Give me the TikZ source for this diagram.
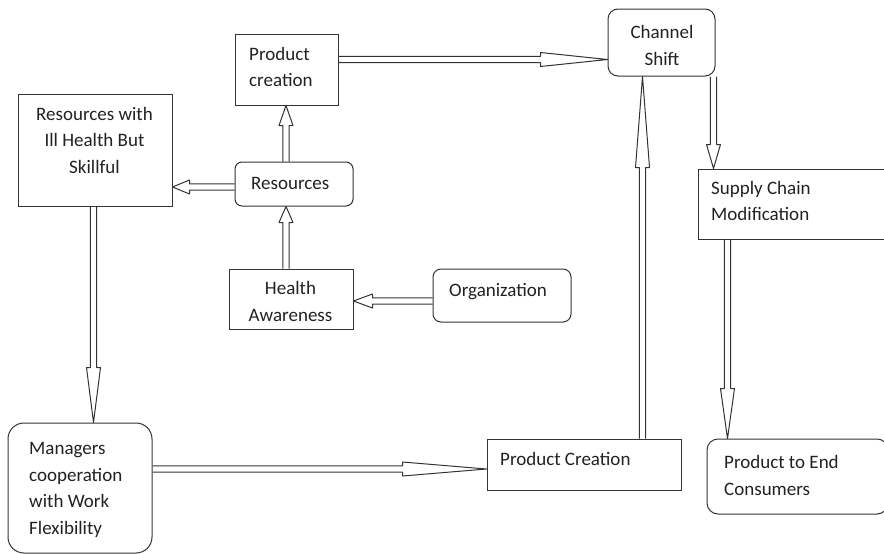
\documentclass[tikz,border=0pt]{standalone}
\usepackage{fontspec}
\setmainfont{Carlito}
\usetikzlibrary{calc}
\definecolor{ln}{HTML}{333333}
\definecolor{tx}{HTML}{222222}
\newcommand\blockarrow[3]{%
  \coordinate (ba-s) at #1;
  \coordinate (ba-e) at #2;
  \coordinate (ba-h) at ($(ba-e)!#3pt!(ba-s)$);
  \draw[conn] ($(ba-s)!3.2pt!90:(ba-e)$) -- ($(ba-h)!3.2pt!-90:(ba-s)$) -- ($(ba-h)!7pt!-90:(ba-s)$) -- (ba-e) -- ($(ba-h)!7pt!90:(ba-s)$) -- ($(ba-h)!3.2pt!90:(ba-s)$) -- ($(ba-s)!3.2pt!-90:(ba-e)$);
}
\begin{document}
\begin{tikzpicture}[x=1pt,y=-1pt,
  box/.style={draw=ln, line width=1pt, inner sep=0pt, fill=white},
  rbox/.style={box, rounded corners=#1},
  conn/.style={draw=ln, line width=1pt, line join=round},
  txt/.style={inner sep=0pt, text=tx, font=\fontsize{19}{26.5}\selectfont}]
\useasboundingbox (0,0) rectangle (884,554);
\clip (0,0) rectangle (884,554);
\fill[white] (0,0) rectangle (884,554);
% boxes
\node[box, minimum width=103pt, minimum height=71pt] (pc) at (286.5,69.5) {};
\node[box, minimum width=154pt, minimum height=112pt] (ri) at (95,150) {};
\node[rbox=7pt, minimum width=118pt, minimum height=44pt] (res) at (294,184) {};
\node[box, minimum width=124pt, minimum height=60pt] (ha) at (291,299) {};
\node[rbox=8pt, minimum width=138pt, minimum height=53pt] (org) at (502,295.5) {};
\node[rbox=10pt, minimum width=107pt, minimum height=67pt] (cs) at (661.5,42.5) {};
\node[box, minimum width=204pt, minimum height=70pt] (sc) at (800,204) {};
\node[rbox=16pt, minimum width=144pt, minimum height=130pt] (mg) at (80,488) {};
\node[box, minimum width=194pt, minimum height=51pt] (pcr) at (584,464.5) {};
\node[rbox=11pt, minimum width=181pt, minimum height=75pt] (pe) at (797.5,476.5) {};
% texts
\node[txt, align=left, anchor=west] (pct) at (249,67) {Product\\creation};
\node[txt, align=center] (rit) at (94.5,140) {Resources with\\Ill Health But\\Skillful};
\node[txt, anchor=west] (rest) at (251,183.5) {Resources};
\node[txt, align=center] (hat) at (290.5,301.5) {Health\\Awareness};
\node[txt, anchor=west] (orgt) at (449,291.5) {Organization};
\node[txt, align=center] (cst) at (662,45.5) {Channel\\Shift};
\node[txt, align=left, anchor=west] (sct) at (711,201) {Supply Chain\\Modification};
\node[txt, align=left, anchor=west] (mgt) at (29,490) {Managers\\cooperation\\with Work\\Flexibility};
\node[txt, anchor=west] (pcrt) at (500,458.5) {Product Creation};
\node[txt, align=left, anchor=west] (pet) at (724,475.5) {Product to End\\Consumers};
% connectors
\blockarrow{(pc.east |- 0,59.5)}{(cs.west |- 0,59.5)}{67}
\blockarrow{(cs.south -| 713.5,0)}{(sc.north -| 713.5,0)}{24}
\blockarrow{(pcr.north -| 642.5,0)}{(cs.south -| 642.5,0)}{91}
\blockarrow{(sc.south -| 727.5,0)}{(pe.north -| 727.5,0)}{50}
\blockarrow{(mg.east |- 0,469)}{(pcr.west |- 0,469)}{84}
\blockarrow{(ri.south -| 93.5,0)}{(mg.north -| 93.5,0)}{55}
\blockarrow{(res.west |- 0,187)}{(ri.east |- 0,187)}{17}
\blockarrow{(res.north -| 286,0)}{(pc.south -| 286,0)}{20}
\blockarrow{(ha.north -| 286,0)}{(res.south -| 286,0)}{16}
\blockarrow{(org.west |- 0,301)}{(ha.east |- 0,301)}{19}
\end{tikzpicture}
\end{document}
